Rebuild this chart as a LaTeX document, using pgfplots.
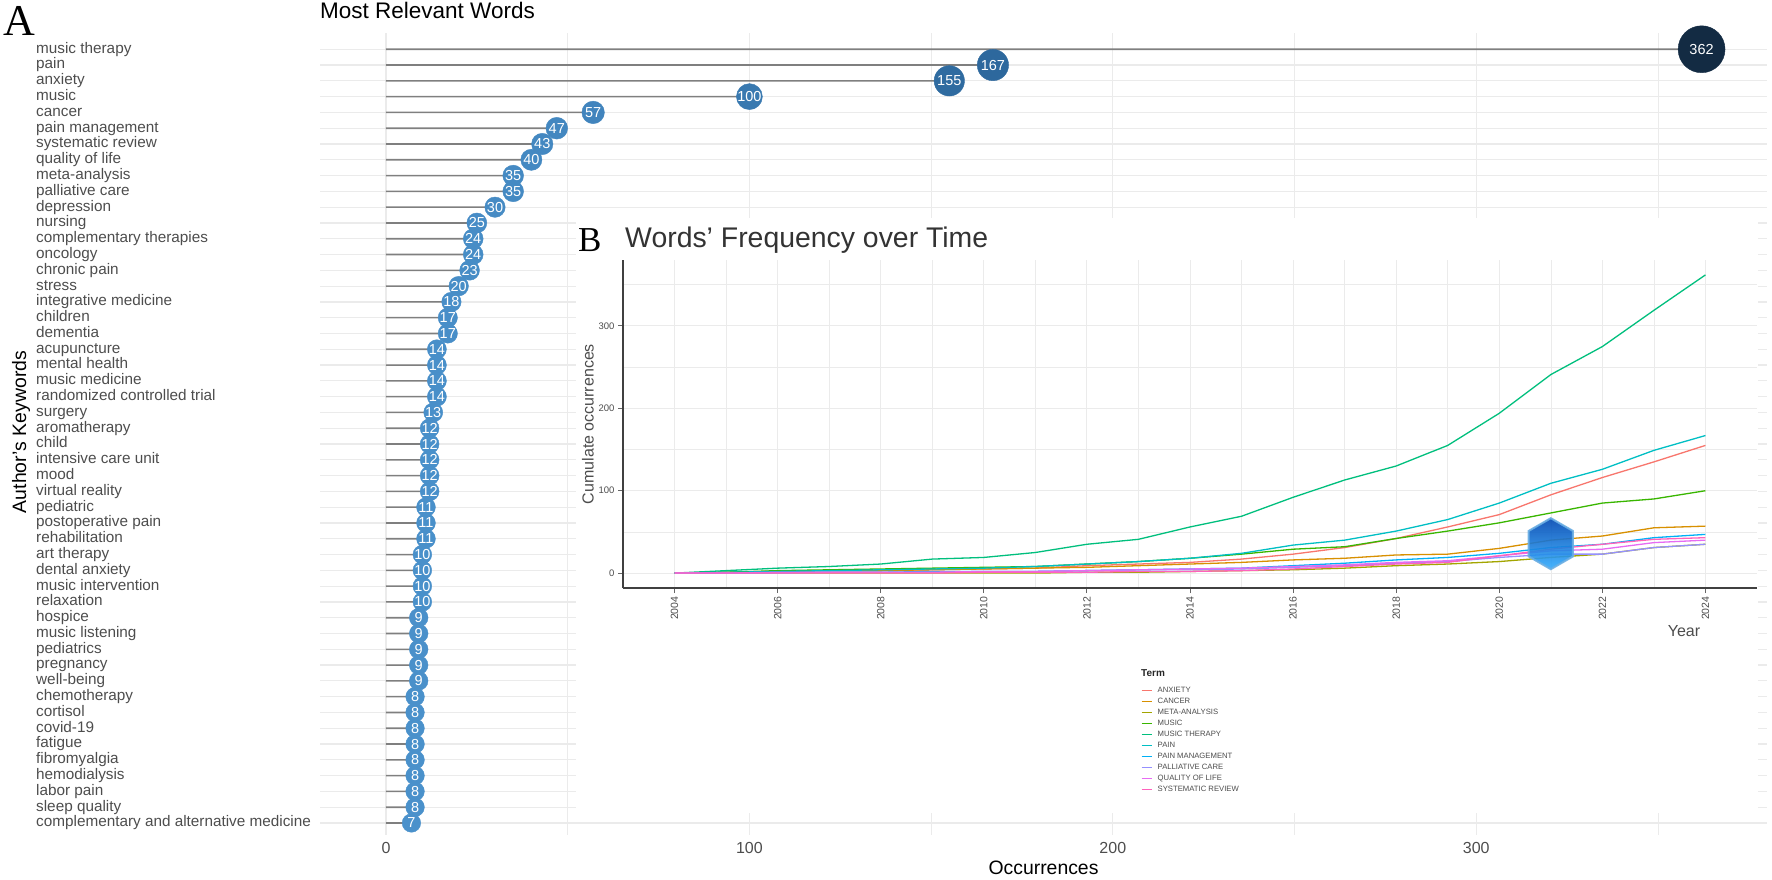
\documentclass[border=0pt]{standalone}
\usepackage{fontspec}
\setmainfont{Liberation Sans}
\newfontfamily\serifA{Liberation Serif}
\usepackage{pgfplots}
\pgfplotsset{compat=1.18}
\usepackage{pgfplotstable}
\usetikzlibrary{shapes.geometric}

\definecolor{gridgray}{HTML}{EBEBEB}
\definecolor{axisgray}{HTML}{4D4D4D}
\definecolor{seggray}{HTML}{7F7F7F}
\definecolor{cANX}{HTML}{F8766D}
\definecolor{cCAN}{HTML}{D89000}
\definecolor{cMETA}{HTML}{A3A500}
\definecolor{cMUS}{HTML}{39B600}
\definecolor{cMT}{HTML}{00BF7D}
\definecolor{cPAIN}{HTML}{00BFC4}
\definecolor{cPM}{HTML}{00B0F6}
\definecolor{cPC}{HTML}{9590FF}
\definecolor{cQOL}{HTML}{E76BF3}
\definecolor{cSR}{HTML}{FF62BC}

\newcommand{\fs}[1]{\fontsize{#1}{#1}\selectfont}
\pgfplotsset{/pgf/number format/assume math mode=true}

% keyword occurrences, bottom row first
\pgfplotstableread[col sep=comma]{
y,v,kw
1,7,complementary and alternative medicine
2,8,sleep quality
3,8,labor pain
4,8,hemodialysis
5,8,fibromyalgia
6,8,fatigue
7,8,covid-19
8,8,cortisol
9,8,chemotherapy
10,9,well-being
11,9,pregnancy
12,9,pediatrics
13,9,music listening
14,9,hospice
15,10,relaxation
16,10,music intervention
17,10,dental anxiety
18,10,art therapy
19,11,rehabilitation
20,11,postoperative pain
21,11,pediatric
22,12,virtual reality
23,12,mood
24,12,intensive care unit
25,12,child
26,12,aromatherapy
27,13,surgery
28,14,randomized controlled trial
29,14,music medicine
30,14,mental health
31,14,acupuncture
32,17,dementia
33,17,children
34,18,integrative medicine
35,20,stress
36,23,chronic pain
37,24,oncology
38,24,complementary therapies
39,25,nursing
40,30,depression
41,35,palliative care
42,35,meta-analysis
43,40,quality of life
44,43,systematic review
45,47,pain management
46,57,cancer
47,100,music
48,155,anxiety
49,167,pain
50,362,music therapy
}\kw

% cumulative occurrences per year
\pgfplotstableread{
year MT PAIN ANX MUS CAN PM SR QOL PC META
2004 0 0 0 0 0 0 0 0 0 0
2005 3 1 1 1 1 0 0 0 0 0
2006 6 2 2 3 2 1 0 1 0 0
2007 8 3 3 4 3 1 0 1 1 0
2008 11 4 3 5 3 1 0 1 1 0
2009 17 5 4 6 4 2 0 1 1 0
2010 19 6 5 7 5 2 1 2 2 0
2011 25 8 6 8 6 2 1 2 2 0
2012 35 11 9 11 7 3 1 3 3 1
2013 41 14 11 14 9 4 2 4 4 1
2014 56 18 13 18 11 5 2 5 4 2
2015 69 24 17 23 13 6 3 6 5 3
2016 92 34 23 29 16 9 5 8 7 4
2017 113 40 31 32 18 12 8 10 9 6
2018 130 51 42 42 22 16 11 13 12 9
2019 155 65 56 51 23 19 13 15 14 11
2020 194 85 71 61 30 24 21 21 19 14
2021 241 109 95 73 40 31 29 27 23 19
2022 275 126 116 85 45 35 35 29 23 23
2023 319 149 135 90 55 43 41 37 31 31
2024 362 167 155 100 57 47 43 40 35 35
}\trend

\begin{document}
\begin{tikzpicture}
\path[use as bounding box] (0pt,0pt) rectangle (1772pt,879pt);
\node[anchor=base west, inner sep=0pt, font=\serifA\fs{44}] at (3pt,843pt) {A};

% (A) lollipop chart
\begin{axis}[
    at={(320pt,44pt)}, anchor=south west,
    scale only axis, width=1447pt, height=802pt,
    xmin=-18.16, xmax=380, ymin=0.24, ymax=51.03,
    axis line style={draw=none},
    major tick length=0pt, minor tick length=0pt,
    xtick={0,100,200,300}, minor xtick={50,150,250,350},
    ytick={1,...,50}, yticklabels from table={\kw}{kw},
    xmajorgrids, xminorgrids, ymajorgrids,
    major grid style={gridgray, line width=1.2pt},
    minor grid style={gridgray, line width=0.6pt},
    yticklabel style={anchor=west, inner sep=0pt, xshift=-284pt, text height=11pt, text depth=3.2pt, font=\fs{15.3}, text=axisgray},
    xticklabel style={yshift=-4pt, font=\fs{16}, text=axisgray},
    xlabel={Occurrences},
    xlabel style={at={(axis description cs:0.5,-0.0411)}, anchor=center, font=\fs{19.4}},
    ylabel={Author's Keywords},
    ylabel style={at={(axis description cs:-0.2066,0.5025)}, anchor=center, font=\fs{19.4}},
    title={Most Relevant Words},
    title style={at={(axis description cs:0,1)}, anchor=base west, yshift=8pt, inner sep=0pt, font=\fs{22.5}},
    colormap={kwmap}{rgb255(0cm)=(74,145,203); rgb255(1cm)=(42,100,152); rgb255(2cm)=(19,43,67)},
    point meta min=7, point meta max=362,
]
\addplot[xbar, bar width=1.6pt, fill=seggray, draw=none] table[x=v, y=y] {\kw};
\addplot[scatter, only marks, mark=*, point meta=explicit,
    scatter/use mapped color={draw=mapped color, fill=mapped color},
    visualization depends on={\thisrow{v} \as \val},
    scatter/@pre marker code/.append style={/tikz/mark size=9+0.04*\val}]
    table[x=v, y=y, meta=v] {\kw};
\addplot[draw=none, mark=none, point meta=explicit,
    nodes near coords, nodes near coords align={center},
    nodes near coords style={anchor=center, text=white, inner sep=0pt, font=\fs{14.5}}]
    table[x=v, y=y, meta=v] {\kw};
\end{axis}

% (B) inset
\fill[white] (576pt,66pt) rectangle (1758pt,661pt);
\node[anchor=base west, inner sep=0pt, font=\serifA\fs{35}] at (578pt,627pt) {B};

\begin{axis}[
    at={(623pt,291pt)}, anchor=south west,
    scale only axis, width=1134pt, height=328pt,
    xmin=2003, xmax=2025, ymin=-18.1, ymax=380.1,
    axis x line*=bottom, axis y line*=left,
    axis line style={-, line width=1.6pt, black!75},
    tick align=outside, major tick length=5pt, minor tick length=0pt,
    tick style={line width=1pt, black!60},
    xtick={2004,2006,...,2024}, minor xtick={2005,2007,...,2023},
    ytick={0,100,200,300}, minor ytick={50,150,250,350},
    xmajorgrids, xminorgrids, ymajorgrids, yminorgrids,
    major grid style={gridgray, line width=1pt},
    minor grid style={gridgray, line width=0.6pt},
    xticklabel style={rotate=90, anchor=east, font=\fs{10.5}, text=axisgray, /pgf/number format/1000 sep={}},
    yticklabel style={font=\fs{9.5}, text=axisgray},
    xlabel={Year},
    xlabel style={at={(axis description cs:0.9356,-0.131)}, anchor=center, font=\fs{16}, text=axisgray},
    ylabel={Cumulate occurrences},
    ylabel style={at={(axis description cs:-0.0309,0.5)}, anchor=center, font=\fs{16}, text=axisgray},
    title={Words' Frequency over Time},
    title style={at={(axis description cs:0,1)}, anchor=base west, xshift=2pt, yshift=7pt, inner sep=0pt, font=\fs{28.4}, text=black!80},
    legend style={at={(axis description cs:0.4568,-0.2988)}, anchor=north west, draw=none, fill=none,
        font=\fs{7.7}, text=axisgray, inner sep=0pt, row sep=3pt, column sep=5pt,
        nodes={inner sep=0.5pt, text height=6pt, text depth=1pt}},
    legend cell align=left,
    legend image code/.code={\draw[#1, line width=1pt] (0pt,0pt) -- (10pt,0pt);},
    every axis plot/.append style={line width=1.3pt, mark=none},
]
\addplot[cANX] table[x=year, y=ANX] {\trend};
\addlegendentry{ANXIETY}
\addplot[cCAN] table[x=year, y=CAN] {\trend};
\addlegendentry{CANCER}
\addplot[cMETA] table[x=year, y=META] {\trend};
\addlegendentry{META-ANALYSIS}
\addplot[cMUS] table[x=year, y=MUS] {\trend};
\addlegendentry{MUSIC}
\addplot[cMT] table[x=year, y=MT] {\trend};
\addlegendentry{MUSIC THERAPY}
\addplot[cPAIN] table[x=year, y=PAIN] {\trend};
\addlegendentry{PAIN}
\addplot[cPM] table[x=year, y=PM] {\trend};
\addlegendentry{PAIN MANAGEMENT}
\addplot[cPC] table[x=year, y=PC] {\trend};
\addlegendentry{PALLIATIVE CARE}
\addplot[cQOL] table[x=year, y=QOL] {\trend};
\addlegendentry{QUALITY OF LIFE}
\addplot[cSR] table[x=year, y=SR] {\trend};
\addlegendentry{SYSTEMATIC REVIEW}
% watermark logo
\node[regular polygon, regular polygon sides=6, shape border rotate=30, minimum size=51pt, inner sep=0pt,
      draw=cyan!70!blue!60, line width=2pt, top color=blue!60!cyan!70!black, bottom color=cyan!60!blue!80, opacity=0.9]
      at (axis cs:2021,35.7) {};
\end{axis}
\node[anchor=west, inner sep=0pt, font=\bfseries\fs{10}, text=black!85] at (1141pt,206pt) {Term};
\end{tikzpicture}
\end{document}
